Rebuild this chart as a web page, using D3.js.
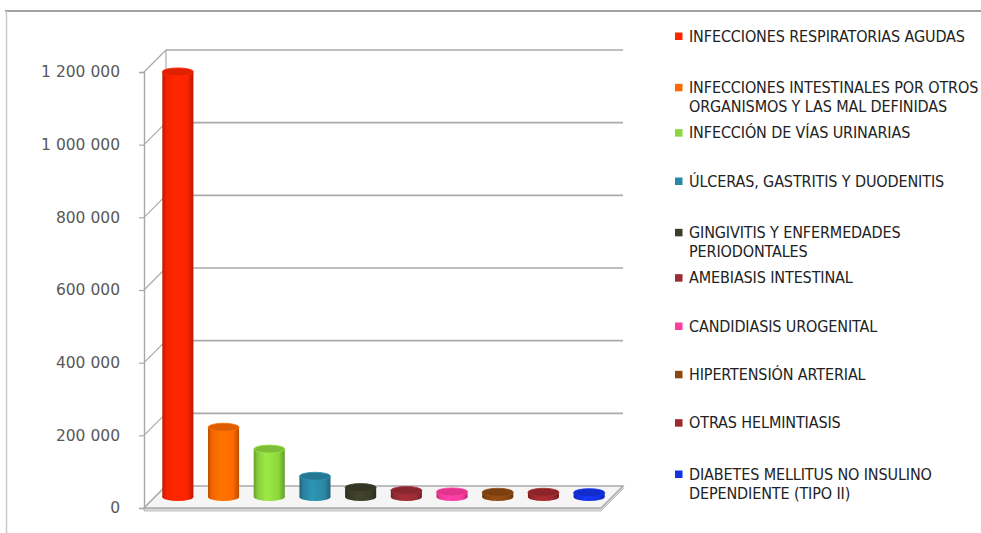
<!DOCTYPE html>
<html>
<head>
<meta charset="utf-8">
<script src="https://cdn.jsdelivr.net/npm/d3@7"></script>
<style>
  html, body { margin: 0; padding: 0; background: #fff; }
  svg { display: block; }
</style>
</head>
<body>
<svg id="chart" width="981" height="533"></svg>
<script>
// Morbidity causes, number of cases
const categories = [
  "INFECCIONES RESPIRATORIAS AGUDAS",
  "INFECCIONES INTESTINALES POR OTROS ORGANISMOS Y LAS MAL DEFINIDAS",
  "INFECCIÓN DE VÍAS URINARIAS",
  "ÚLCERAS, GASTRITIS Y DUODENITIS",
  "GINGIVITIS Y ENFERMEDADES PERIODONTALES",
  "AMEBIASIS INTESTINAL",
  "CANDIDIASIS UROGENITAL",
  "HIPERTENSIÓN ARTERIAL",
  "OTRAS HELMINTIASIS",
  "DIABETES MELLITUS NO INSULINO DEPENDIENTE (TIPO II)"
];
const legendLines = [
  ["INFECCIONES RESPIRATORIAS AGUDAS"],
  ["INFECCIONES INTESTINALES POR OTROS", "ORGANISMOS Y LAS MAL DEFINIDAS"],
  ["INFECCIÓN DE VÍAS URINARIAS"],
  ["ÚLCERAS, GASTRITIS Y DUODENITIS"],
  ["GINGIVITIS Y ENFERMEDADES", "PERIODONTALES"],
  ["AMEBIASIS INTESTINAL"],
  ["CANDIDIASIS UROGENITAL"],
  ["HIPERTENSIÓN ARTERIAL"],
  ["OTRAS HELMINTIASIS"],
  ["DIABETES MELLITUS NO INSULINO", "DEPENDIENTE (TIPO II)"]
];
const cases = [1170000, 192000, 132000, 57000, 26000, 18000, 14000, 13000, 13000, 12000];
const colors = ["#ff2400", "#ff6a00", "#8ed63e", "#2a88a6", "#3b3d28", "#9a2c34",
                "#ff3c9e", "#8c4812", "#9e2a2e", "#1432e6"];
const tickValues = [0, 200000, 400000, 600000, 800000, 1000000, 1200000];

(function () {
  const svg = d3.select("#chart");
  const defs = svg.append("defs");

  // plot geometry (front plane + depth offset of the 3-D box)
  const pLeft = 144, pRight = 601, pBottom = 508, pTop = 72;
  const depth = 22;           // x/y offset of the back wall
  const half = depth / 2;     // bars stand in the middle of the depth

  const y = d3.scaleLinear().domain([0, 1200000]).range([pBottom, pTop]);
  const x = d3.scaleBand().domain(categories).range([pLeft, pRight])
    .paddingInner(0.32).paddingOuter(0.16);

  const fmt = v => d3.format(",")(v).replace(/,/g, " ");

  // outer frame
  svg.append("line").attr("x1", 5).attr("x2", 981).attr("y1", 11).attr("y2", 11)
    .attr("stroke", "#a2a2a2").attr("stroke-width", 2);
  svg.append("line").attr("x1", 6.5).attr("x2", 6.5).attr("y1", 11).attr("y2", 533)
    .attr("stroke", "#c9c9c9").attr("stroke-width", 1.5);

  const grid = svg.append("g");
  const gridColor = "#aaaaaa";

  // back wall gridlines
  grid.selectAll("line.back").data(tickValues.filter(d => d > 0)).join("line")
    .attr("class", "back")
    .attr("x1", pLeft + depth).attr("x2", pRight + depth)
    .attr("y1", d => y(d) - depth).attr("y2", d => y(d) - depth)
    .attr("stroke", gridColor).attr("stroke-width", 1.7);

  // side wall: back edge and diagonals at each tick
  grid.append("line").attr("x1", pLeft + depth).attr("x2", pLeft + depth)
    .attr("y1", y(1200000) - depth).attr("y2", y(0) - depth)
    .attr("stroke", gridColor).attr("stroke-width", 1.2);
  grid.selectAll("line.diag").data(tickValues).join("line")
    .attr("class", "diag")
    .attr("x1", pLeft).attr("x2", pLeft + depth)
    .attr("y1", d => y(d)).attr("y2", d => y(d) - depth)
    .attr("stroke", gridColor).attr("stroke-width", 1.2);

  // floor with a thin slab
  const y0 = y(0);
  grid.append("path")
    .attr("d", `M${pLeft},${y0} L${pRight},${y0} L${pRight + depth},${y0 - depth} L${pRight + depth},${y0 - depth + 3} L${pRight},${y0 + 3} L${pLeft},${y0 + 3}Z`)
    .attr("fill", "#d9d9d9").attr("stroke", "#b8b8b8").attr("stroke-width", 0.8);
  grid.append("path")
    .attr("d", `M${pLeft},${y0} L${pLeft + depth},${y0 - depth} L${pRight + depth},${y0 - depth} L${pRight},${y0}Z`)
    .attr("fill", "#f5f5f5").attr("stroke", gridColor).attr("stroke-width", 1.4);

  // front axis with ticks and labels
  const axis = d3.axisLeft(y).tickValues(tickValues).tickSize(5).tickPadding(19).tickFormat(fmt);
  const ag = svg.append("g").attr("transform", `translate(${pLeft},0)`).call(axis);
  ag.select(".domain").attr("stroke", "#a8a8a8").attr("stroke-width", 1.4);
  ag.selectAll(".tick line").attr("stroke", "#a8a8a8").attr("stroke-width", 1.2);
  ag.selectAll(".tick text")
    .attr("fill", "#595959")
    .style("font-family", "'DejaVu Sans', Verdana, sans-serif")
    .style("font-size", "15.5px");

  // cylinder gradients
  colors.forEach((c, i) => {
    const base = d3.color(c);
    const g = defs.append("linearGradient").attr("id", "cyl" + i)
      .attr("x1", "0%").attr("x2", "100%").attr("y1", "0%").attr("y2", "0%");
    g.append("stop").attr("offset", "0%").attr("stop-color", base.darker(0.9));
    g.append("stop").attr("offset", "12%").attr("stop-color", base.darker(0.15));
    g.append("stop").attr("offset", "40%").attr("stop-color", base.brighter(0.25));
    g.append("stop").attr("offset", "80%").attr("stop-color", base);
    g.append("stop").attr("offset", "100%").attr("stop-color", base.darker(0.9));
  });

  // bars as cylinders standing on the floor's mid-depth line
  const rx = x.bandwidth() / 2, ry = 4;
  const bars = svg.append("g").selectAll("g").data(cases).join("g");
  bars.each(function (v, i) {
    const g = d3.select(this);
    const cx = x(categories[i]) + rx + half;
    const yb = y(0) - half, yt = y(v) - half;
    const base = d3.color(colors[i]);
    g.append("ellipse").attr("cx", cx).attr("cy", yb).attr("rx", rx).attr("ry", ry)
      .attr("fill", `url(#cyl${i})`);
    g.append("rect").attr("x", cx - rx).attr("y", yt).attr("width", 2 * rx).attr("height", yb - yt)
      .attr("fill", `url(#cyl${i})`);
    g.append("ellipse").attr("cx", cx).attr("cy", yt).attr("rx", rx).attr("ry", ry)
      .attr("fill", base.darker(0.35)).attr("stroke", base.brighter(0.2)).attr("stroke-width", 0.8);
  });

  // legend
  const legend = svg.append("g").attr("transform", "translate(675,0)");
  const rowY = d3.scaleLinear().domain([0, 9]).range([36, 471]);
  const items = legend.selectAll("g").data(legendLines).join("g")
    .attr("transform", (d, i) => `translate(0,${rowY(i) + (d.length > 1 ? 3 : 0)})`);
  items.append("rect").attr("x", 0).attr("y", -3.5).attr("width", 7.5).attr("height", 7.5)
    .attr("fill", (d, i) => colors[i]);
  items.each(function (lines) {
    const t = d3.select(this).append("text")
      .attr("x", 14).attr("y", 5.5)
      .attr("fill", "#222")
      .style("font-family", "'Liberation Sans Narrow', 'DejaVu Sans Condensed', 'Arial Narrow', sans-serif")
      .style("font-size", "16px")
      .style("letter-spacing", "-0.12px");
    lines.forEach((ln, k) => {
      t.append("tspan").attr("x", 14).attr("dy", k === 0 ? 0 : 19).text(ln);
    });
  });
})();
</script>
</body>
</html>
